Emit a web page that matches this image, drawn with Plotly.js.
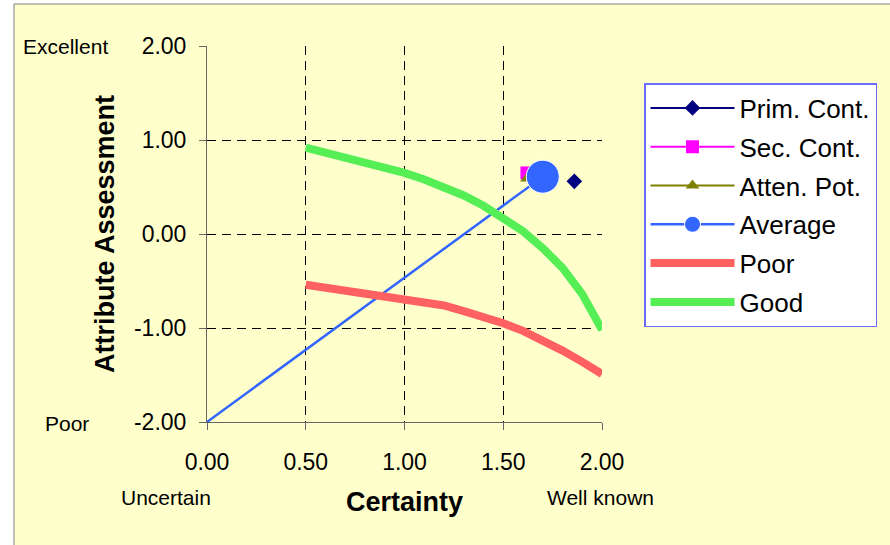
<!DOCTYPE html>
<html>
<head>
<meta charset="utf-8">
<script src="https://cdn.plot.ly/plotly-3.0.1.min.js"></script>
<style>html,body{margin:0;padding:0;background:#fff;}#chart{width:890px;height:545px;}</style>
</head>
<body>
<div id="chart"></div>
<script>
// ---- data ----
const primX = [1.86];
const primY = [0.56];
const secX = [1.62];
const secY = [0.65];
const attenX = [1.62];
const attenY = [0.59];
const averageX = [0, 1.70];
const averageY = [-2, 0.61];
const poorX = [0.5, 0.6, 0.7, 0.8, 0.9, 1.0, 1.1, 1.2, 1.3, 1.4, 1.5, 1.6, 1.7, 1.8, 1.9, 2.0];
const poorY = [-0.54, -0.57, -0.60, -0.63, -0.66, -0.69, -0.72, -0.76, -0.82, -0.88, -0.95, -1.03, -1.13, -1.24, -1.36, -1.49];
const goodX = [0.5, 0.6, 0.7, 0.8, 0.9, 1.0, 1.1, 1.2, 1.3, 1.4, 1.5, 1.6, 1.7, 1.8, 1.9, 2.0];
const goodY = [0.92, 0.87, 0.82, 0.76, 0.71, 0.65, 0.58, 0.50, 0.41, 0.30, 0.17, 0.03, -0.15, -0.36, -0.64, -1.02];
const xTickVals = [0, 0.5, 1, 1.5, 2];
const xTickText = ['0.00', '0.50', '1.00', '1.50', '2.00'];
const yTickVals = [-2, -1, 0, 1, 2];
const yTickText = ['-2.00', '-1.00', '0.00', '1.00', '2.00'];

// ---- geometry helpers (plot area in px) ----
const W = 890, H = 545;
const L = 207, R = 288, T = 46, B = 123;
const PW = W - L - R, PH = H - T - B;
const px = v => (v - L) / PW;
const py = v => (H - B - v) / PH;

const FONT = '"Liberation Sans", Arial, sans-serif';

const traces = [
  {x: primX, y: primY, name: 'Prim. Cont.', mode: 'lines+markers', legendgroup: 'a',
   line: {color: '#000080', width: 2}, marker: {symbol: 'diamond', size: 12, color: '#000080'}},
  {x: secX, y: secY, name: 'Sec. Cont.', mode: 'lines+markers', legendgroup: 'b',
   line: {color: '#ff00ff', width: 2}, marker: {symbol: 'square', size: 13, color: '#ff00ff'}},
  {x: attenX, y: attenY, name: 'Atten. Pot.', mode: 'lines+markers', legendgroup: 'c',
   line: {color: '#808000', width: 2}, marker: {symbol: 'triangle-up', size: 12, color: '#808000'}},
  {x: averageX, y: averageY, name: 'Average', mode: 'lines+markers', legendgroup: 'd', cliponaxis: false,
   line: {color: '#3366ff', width: 2.5}, marker: {symbol: 'circle', size: [0, 33], color: '#3366ff', opacity: 1}},
  {x: poorX, y: poorY, name: 'Poor', mode: 'lines', legendgroup: 'e',
   line: {color: '#ff6060', width: 8}},
  {x: goodX, y: goodY, name: 'Good', mode: 'lines', legendgroup: 'f',
   line: {color: '#55ee55', width: 8}}
];

const axisCommon = {
  showline: true, linecolor: '#666666', linewidth: 1,
  showgrid: true, gridcolor: '#000000', gridwidth: 1, griddash: '9px,6px',
  zeroline: false, ticks: 'outside', ticklen: 7, tickcolor: '#666666',
  tickfont: {family: FONT, size: 23, color: '#000'}
};

const layout = {
  width: W, height: H,
  margin: {l: L, r: R, t: T, b: B, pad: 0},
  paper_bgcolor: '#ffffff',
  plot_bgcolor: 'rgba(0,0,0,0)',
  font: {family: FONT, color: '#000'},
  showlegend: true,
  xaxis: Object.assign({}, axisCommon, {
    range: [0, 2], tickvals: xTickVals, ticktext: xTickText, ticklabelstandoff: 12,
    title: {text: 'Certainty', font: {family: FONT, size: 27, weight: 'bold'}, standoff: 18}
  }),
  yaxis: Object.assign({}, axisCommon, {
    range: [-2, 2], tickvals: yTickVals, ticktext: yTickText, ticklabelstandoff: 8,
    title: {text: 'Attribute Assessment', font: {family: FONT, size: 27, weight: 'bold'}, standoff: 11}
  }),
  legend: {
    x: px(644), y: py(83), xanchor: 'left', yanchor: 'top',
    bgcolor: '#ffffff', bordercolor: '#6b6bff', borderwidth: 1.5,
    font: {family: FONT, size: 26, color: '#000'},
    traceorder: 'grouped', tracegroupgap: 2, itemwidth: 84
  },
  shapes: [
    {type: 'rect', xref: 'paper', yref: 'paper', layer: 'below',
     x0: px(14), x1: px(900), y0: py(560), y1: py(4),
     fillcolor: '#ffffcc', line: {color: '#808080', width: 1}}
  ],
  annotations: [
    {text: 'Excellent', xref: 'paper', yref: 'paper', x: px(65), y: py(46), showarrow: false,
     xanchor: 'center', yanchor: 'middle', font: {family: FONT, size: 21, color: '#000'}},
    {text: 'Poor', xref: 'paper', yref: 'paper', x: px(67), y: py(423), showarrow: false,
     xanchor: 'center', yanchor: 'middle', font: {family: FONT, size: 21, color: '#000'}},
    {text: 'Uncertain', xref: 'paper', yref: 'paper', x: px(166), y: py(497), showarrow: false,
     xanchor: 'center', yanchor: 'middle', font: {family: FONT, size: 21, color: '#000'}},
    {text: 'Well known', xref: 'paper', yref: 'paper', x: px(600), y: py(497), showarrow: false,
     xanchor: 'center', yanchor: 'middle', font: {family: FONT, size: 21, color: '#000'}}
  ]
};

Plotly.newPlot('chart', traces, layout, {displayModeBar: false, staticPlot: true});
</script>
</body>
</html>
